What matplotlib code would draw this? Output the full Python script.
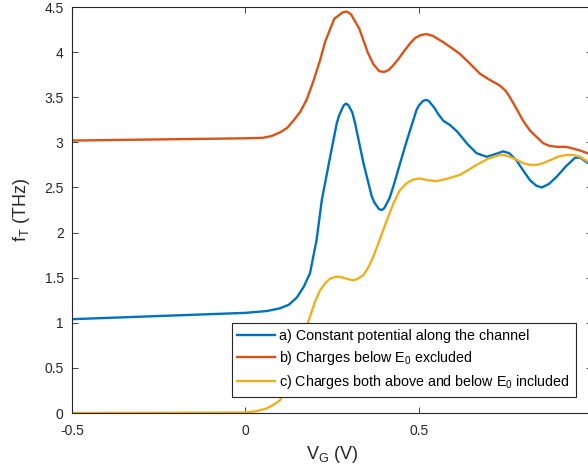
import numpy as np
import matplotlib
matplotlib.use("Agg")
import matplotlib.pyplot as plt

plt.rcParams['font.family'] = ['Liberation Sans', 'DejaVu Sans']
plt.rcParams['mathtext.default'] = 'regular'

# gate voltage (V) and cutoff frequency (THz)
vg_a = [-0.5, 0.0, 0.03, 0.061, 0.099, 0.125, 0.148, 0.168, 0.186, 0.205, 0.220,
        0.244, 0.263, 0.270, 0.283, 0.290, 0.297, 0.308, 0.316, 0.340, 0.364,
        0.372, 0.385, 0.393, 0.400, 0.415, 0.426, 0.445, 0.465, 0.493, 0.500,
        0.512, 0.520, 0.528, 0.545, 0.556, 0.570, 0.590, 0.610, 0.640, 0.666,
        0.695, 0.720, 0.743, 0.760, 0.781, 0.800, 0.820, 0.838, 0.854, 0.875,
        0.897, 0.925, 0.950, 0.965, 0.983, 1.0]
ft_a = [1.04, 1.11, 1.12, 1.13, 1.16, 1.20, 1.28, 1.40, 1.55, 1.92, 2.36,
        2.84, 3.21, 3.30, 3.41, 3.43, 3.41, 3.33, 3.21, 2.77, 2.40,
        2.33, 2.26, 2.25, 2.27, 2.38, 2.51, 2.76, 3.02, 3.36, 3.41,
        3.46, 3.47, 3.46, 3.38, 3.31, 3.24, 3.19, 3.12, 2.98, 2.88,
        2.84, 2.87, 2.90, 2.88, 2.80, 2.69, 2.58, 2.52, 2.50, 2.54,
        2.62, 2.74, 2.83, 2.83, 2.78, 2.74]

vg_b = [-0.5, 0.0, 0.05, 0.075, 0.0994, 0.12, 0.138, 0.158, 0.176, 0.195, 0.215,
        0.230, 0.256, 0.280, 0.292, 0.304, 0.328, 0.352, 0.368, 0.385, 0.399,
        0.412, 0.425, 0.440, 0.455, 0.475, 0.490, 0.506, 0.522, 0.540, 0.570,
        0.600, 0.618, 0.645, 0.676, 0.705, 0.733, 0.750, 0.762, 0.780, 0.800,
        0.820, 0.839, 0.858, 0.877, 0.900, 0.925, 0.945, 0.964, 0.985, 1.0]
ft_b = [3.02, 3.045, 3.05, 3.07, 3.11, 3.16, 3.24, 3.34, 3.47, 3.67, 3.91,
        4.12, 4.37, 4.44, 4.45, 4.42, 4.26, 4.00, 3.87, 3.79, 3.78,
        3.80, 3.85, 3.92, 4.00, 4.10, 4.16, 4.19, 4.20, 4.18, 4.11,
        4.03, 3.98, 3.88, 3.76, 3.69, 3.63, 3.57, 3.50, 3.38, 3.24,
        3.13, 3.06, 2.99, 2.96, 2.95, 2.95, 2.93, 2.91, 2.88, 2.85]

vg_c = [-0.5, 0.0, 0.03, 0.061, 0.080, 0.0994, 0.12, 0.14, 0.165, 0.186, 0.200,
        0.215, 0.230, 0.244, 0.260, 0.272, 0.290, 0.311, 0.325, 0.340, 0.355,
        0.368, 0.383, 0.397, 0.412, 0.426, 0.445, 0.465, 0.485, 0.503, 0.525,
        0.551, 0.585, 0.618, 0.645, 0.666, 0.700, 0.733, 0.745, 0.762, 0.780,
        0.800, 0.820, 0.839, 0.858, 0.877, 0.900, 0.925, 0.945, 0.964, 0.985, 1.0]
ft_c = [0.0, 0.005, 0.02, 0.05, 0.09, 0.14, 0.30, 0.55, 0.83, 1.07, 1.23,
        1.36, 1.44, 1.49, 1.51, 1.51, 1.49, 1.47, 1.49, 1.53, 1.62,
        1.73, 1.88, 2.03, 2.18, 2.32, 2.47, 2.55, 2.59, 2.60, 2.58,
        2.57, 2.60, 2.64, 2.70, 2.75, 2.82, 2.86, 2.86, 2.84, 2.81,
        2.77, 2.75, 2.75, 2.77, 2.80, 2.84, 2.86, 2.86, 2.84, 2.79, 2.76]

labels = ['a) Constant potential along the channel',
          'b) Charges below $E_0$ excluded',
          'c) Charges both above and below $E_0$ included']
colors = ['#0072BD', '#D95319', '#EDB120']

xticks = [-0.5, 0, 0.5]
xticklabels = ['-0.5', '0', '0.5']
yticks = [0, 0.5, 1, 1.5, 2, 2.5, 3, 3.5, 4, 4.5]
yticklabels = ['0', '0.5', '1', '1.5', '2', '2.5', '3', '3.5', '4', '4.5']

fig = plt.figure(figsize=(5.88, 4.75), dpi=100)
ax = fig.add_axes([0.1224, 0.1305, 0.8852, 0.8547])

for vg, ft, lab, c in zip([vg_a, vg_b, vg_c], [ft_a, ft_b, ft_c], labels, colors):
    ax.plot(vg, ft, color=c, lw=1.7, label=lab, solid_joinstyle='round')

ax.set_xlim(-0.5, 1.0)
ax.set_ylim(0, 4.5)
ax.set_xticks(xticks)
ax.set_xticklabels(xticklabels)
ax.set_yticks(yticks)
ax.set_yticklabels(yticklabels)

dark = '#262626'
for s in ax.spines.values():
    s.set_color(dark)
    s.set_linewidth(0.8)
ax.tick_params(direction='in', top=True, right=True, length=4, width=0.6,
               color=dark, labelcolor=dark, labelsize=10)
ax.tick_params(axis='x', pad=8)
ax.tick_params(axis='y', pad=6)

ax.set_xlabel('$V_G$ (V)', fontsize=13, color=dark, labelpad=4)
ax.set_ylabel('$f_T$ (THz)', fontsize=13, color=dark, labelpad=9)

leg = ax.legend(loc='lower left', bbox_to_anchor=(0.307, 0.039), fontsize=10.3,
                frameon=True, fancybox=False, framealpha=1, edgecolor=dark,
                borderaxespad=0, handlelength=2.6, handletextpad=0.3,
                labelspacing=0.45, borderpad=0.4)
leg.get_frame().set_linewidth(0.8)

fig.savefig('out.png', dpi=100)
